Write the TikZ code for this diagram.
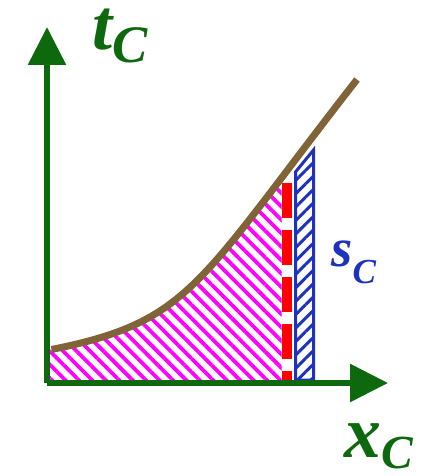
\documentclass[tikz,border=0pt]{standalone}
\usepackage{fontspec}
\newfontfamily\lblfont{Liberation Serif}
\usetikzlibrary{arrows.meta,patterns.meta}
\definecolor{axisgreen}{RGB}{14,105,14}
\definecolor{curvebrown}{RGB}{128,100,56}
\definecolor{stripblue}{RGB}{30,50,190}
\tikzset{
  axis/.style={line width=0.12cm,axisgreen,-{Triangle[width=0.74cm,length=0.76cm]}},
  lbl/.style={anchor=base west,inner sep=0pt,font=\lblfont\bfseries\itshape},
}
\newcommand{\tcurve}{(0.09,0.67) .. controls (2.89,1.23) and (3.0,1.97) .. (6.2,6.07)}
\begin{document}
\begin{tikzpicture}
  \useasboundingbox (-0.94,-1.86) rectangle (7.56,7.66);
  % area under the curve
  \begin{scope}
    \clip (0.06,0.06) rectangle (4.69,7);
    \fill[pattern={Lines[angle=-45,distance=0.19cm,line width=0.075cm]},pattern color=magenta]
      (0.06,0) -- (0.06,0.67) -- \tcurve -- (6.2,0) -- cycle;
  \end{scope}
  \draw[red,line width=0.2cm,dash pattern=on 0.7cm off 0.24cm] (4.79,4.0) -- (4.79,0.06);
  % the strip
  \draw[stripblue,line width=0.06cm,pattern={Lines[angle=45,distance=0.19cm,line width=0.06cm]},pattern color=stripblue]
    (4.97,0.06) -- (4.97,4.22) -- (5.33,4.66) -- (5.33,0.06) -- cycle;
  \draw[curvebrown,line width=0.14cm] \tcurve;
  \draw[axis] (0,0) -- (0,7.12);
  \draw[axis] (0,0) -- (6.82,0);
  \node[lbl,axisgreen] (tlabel) at (0.9,6.66)
    {\fontsize{41}{41}\selectfont t\raisebox{-0.26cm}{\fontsize{30}{30}\selectfont C}};
  \node[lbl,axisgreen] (xlabel) at (5.94,-1.48)
    {\fontsize{42}{42}\selectfont x\raisebox{-0.22cm}{\fontsize{27}{27}\selectfont C}};
  \node[lbl,stripblue] (slabel) at (5.68,2.32)
    {\fontsize{31}{31}\selectfont s\raisebox{-0.33cm}{\fontsize{20}{20}\selectfont C}};
\end{tikzpicture}
\end{document}
